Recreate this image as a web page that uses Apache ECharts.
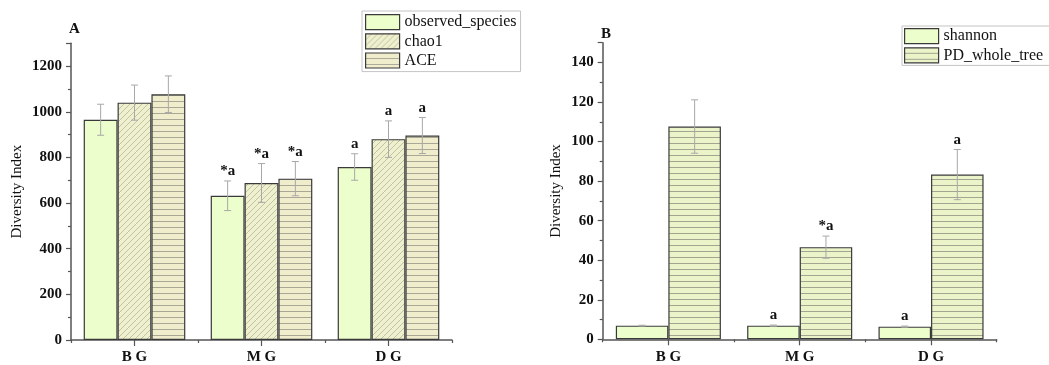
<!DOCTYPE html>
<html>
<head>
<meta charset="utf-8">
<script src="https://cdn.jsdelivr.net/npm/echarts@6/dist/echarts.min.js"></script>
<style>html,body{margin:0;padding:0;background:#fff}#c{width:1049px;height:365px}</style>
</head>
<body>
<div id="c"></div>
<script>
// ---- data ----
const categories = ['B G', 'M G', 'D G'];
const observedSpecies = [965, 632, 758];
const observedSpeciesErr = [68, 65, 58];
const chao1 = [1040, 688, 880];
const chao1Err = [77, 85, 80];
const ace = [1077, 707, 896];
const aceErr = [80, 75, 79];
const shannon = [6.9, 6.9, 6.4];
const shannonErr = [0.2, 0.3, 0.3];
const pdWholeTree = [107.6, 46.6, 83.3];
const pdWholeTreeErr = [13.5, 5.6, 12.7];
const observedLabels = ['', '*a', 'a'];
const chao1Labels = ['', '*a', 'a'];
const aceLabels = ['', '*a', 'a'];
const shannonLabels = ['', 'a', 'a'];
const pdLabels = ['', '*a', 'a'];
const leftTicks = { min: 0, max: 1300, interval: 200 };
const rightTicks = { min: 0, max: 150, interval: 20 };

// ---- patterns ----
function solid(bg){ return bg; }
function diag(bg, line){
  const c = document.createElement('canvas'); c.width = 6; c.height = 6;
  const g = c.getContext('2d'); g.fillStyle = bg; g.fillRect(0,0,6,6);
  g.strokeStyle = line; g.lineWidth = 0.8; g.beginPath();
  g.moveTo(-1,7); g.lineTo(7,-1);
  g.moveTo(-1,1); g.lineTo(1,-1);
  g.moveTo(5,7); g.lineTo(7,5);
  g.stroke();
  return { image: c, repeat: 'repeat' };
}
function horiz(bg, line){
  const c = document.createElement('canvas'); c.width = 4; c.height = 6;
  const g = c.getContext('2d'); g.fillStyle = bg; g.fillRect(0,0,4,6);
  g.fillStyle = line; g.fillRect(0,5,4,1);
  return { image: c, repeat: 'repeat' };
}

const FONT = 'Liberation Serif';
const AXIS_COLOR = '#555';
const BORDER = '#3a3a3a';

function makeBar(name, data, color, gi){
  return {
    name, type: 'bar', xAxisIndex: gi*2, yAxisIndex: gi, data,
    barGap: '0%', barCategoryGap: '20%',
    itemStyle: { color, borderColor: BORDER, borderWidth: 1.2 },
    emphasis: { disabled: true }, silent: true, z: 2
  };
}
function makeErr(vals, errs, labels, idx, n, gi){
  return {
    type: 'custom', xAxisIndex: gi*2, yAxisIndex: gi, silent: true, z: 5,
    data: vals.map((v,i)=>[i, v, errs[i]]),
    renderItem: function(params, api){
      const ci = api.value(0), v = api.value(1), e = api.value(2);
      const c = api.coord([ci, v]);
      const band = api.size([1,0])[0];
      const bw = band*0.8/n;
      const x = c[0] + (-n/2 + idx + 0.5)*bw;
      const yt = api.coord([ci, v+e])[1];
      const yb = api.coord([ci, v-e])[1];
      const st = { stroke: '#a8a8a8', lineWidth: 1 };
      const children = [
        { type: 'line', shape: { x1: x, y1: yt, x2: x, y2: yb }, style: st },
        { type: 'line', shape: { x1: x-3.5, y1: yt, x2: x+3.5, y2: yt }, style: st },
        { type: 'line', shape: { x1: x-3.5, y1: yb, x2: x+3.5, y2: yb }, style: st }
      ];
      const lab = labels[params.dataIndex];
      if (lab) {
        children.push({ type: 'text', x: x, y: yt - 2, style: {
          text: lab, fill: '#111', font: 'bold 15px "' + FONT + '"',
          textAlign: 'center', textVerticalAlign: 'bottom' } });
      }
      return { type: 'group', children };
    }
  };
}

function yAxis(gi, t){
  return {
    type: 'value', gridIndex: gi, min: t.min, max: t.max, interval: t.interval,
    name: 'Diversity Index', nameLocation: 'middle', nameGap: gi===0 ? 46 : 39,
    nameTextStyle: { fontFamily: FONT, fontSize: 15, color: '#111' },
    axisLine: { show: true, lineStyle: { color: AXIS_COLOR, width: 1.5 } },
    axisTick: { show: true, length: 5, lineStyle: { color: AXIS_COLOR, width: 1.2 } },
    minorTick: { show: true, splitNumber: 2, length: 3, lineStyle: { color: AXIS_COLOR, width: 1.2 } },
    splitLine: { show: false },
    axisLabel: { margin: 9, fontFamily: FONT, fontSize: 15, fontWeight: 'bold', color: '#111',
      formatter: v => (v % t.interval === 0 ? String(v) : '') }
  };
}
function xAxes(gi){
  return [{
    type: 'category', gridIndex: gi, data: categories,
    axisLine: { show: true, lineStyle: { color: AXIS_COLOR, width: 1.5 } },
    axisTick: { show: true, alignWithLabel: true, length: 6, lineStyle: { color: AXIS_COLOR, width: 1.2 } },
    axisLabel: { margin: 10, fontFamily: FONT, fontSize: 15, fontWeight: 'bold', color: '#111' },
    splitLine: { show: false }
  }, {
    type: 'category', gridIndex: gi, data: categories, position: 'bottom',
    axisLine: { show: false },
    axisTick: { show: true, length: 3, lineStyle: { color: AXIS_COLOR, width: 1.2 } },
    axisLabel: { show: false }, splitLine: { show: false }
  }];
}

const cObserved = solid('#ecfecb');
const cChao1 = diag('#eef0cf', '#b5b78f');
const cAce = horiz('#efedcc', '#a9a796');
const cShannon = solid('#ecfecb');
const cPd = horiz('#ebf4c9', '#a3a592');

const legendCommon = {
  orient: 'vertical', selectedMode: false, icon: 'rect',
  itemWidth: 34, itemHeight: 15, itemGap: 3,
  borderColor: '#c4c4c4', borderWidth: 1,
  textStyle: { fontFamily: FONT, fontSize: 16, color: '#111' },
  itemStyle: { borderColor: BORDER, borderWidth: 1.2 }
};

const option = {
  animation: false,
  backgroundColor: '#fff',
  title: [
    { text: 'A', left: 64, top: 17, textStyle: { fontFamily: FONT, fontSize: 15, fontWeight: 'bold', color: '#111' } },
    { text: 'B', left: 596, top: 22, textStyle: { fontFamily: FONT, fontSize: 15, fontWeight: 'bold', color: '#111' } }
  ],
  legend: [
    Object.assign({}, legendCommon, { data: ['observed_species', 'chao1', 'ACE'], left: 362, top: 11, padding: [3, 4, 3, 3] }),
    Object.assign({}, legendCommon, { data: ['shannon', 'PD_whole_tree'], left: 902, top: 26, padding: [2, 10, 2, 2] })
  ],
  grid: [
    { left: 71, top: 43.3, width: 381, height: 296.7 },
    { left: 602.7, top: 42.7, width: 394, height: 296.6 }
  ],
  xAxis: [...xAxes(0), ...xAxes(1)],
  yAxis: [yAxis(0, leftTicks), yAxis(1, rightTicks)],
  series: [
    makeBar('observed_species', observedSpecies, cObserved, 0),
    makeBar('chao1', chao1, cChao1, 0),
    makeBar('ACE', ace, cAce, 0),
    makeErr(observedSpecies, observedSpeciesErr, observedLabels, 0, 3, 0),
    makeErr(chao1, chao1Err, chao1Labels, 1, 3, 0),
    makeErr(ace, aceErr, aceLabels, 2, 3, 0),
    makeBar('shannon', shannon, cShannon, 1),
    makeBar('PD_whole_tree', pdWholeTree, cPd, 1),
    makeErr(shannon, shannonErr, shannonLabels, 0, 2, 1),
    makeErr(pdWholeTree, pdWholeTreeErr, pdLabels, 1, 2, 1)
  ]
};

const chart = echarts.init(document.getElementById('c'), null, { renderer: 'canvas' });
chart.setOption(option);
</script>
</body>
</html>
